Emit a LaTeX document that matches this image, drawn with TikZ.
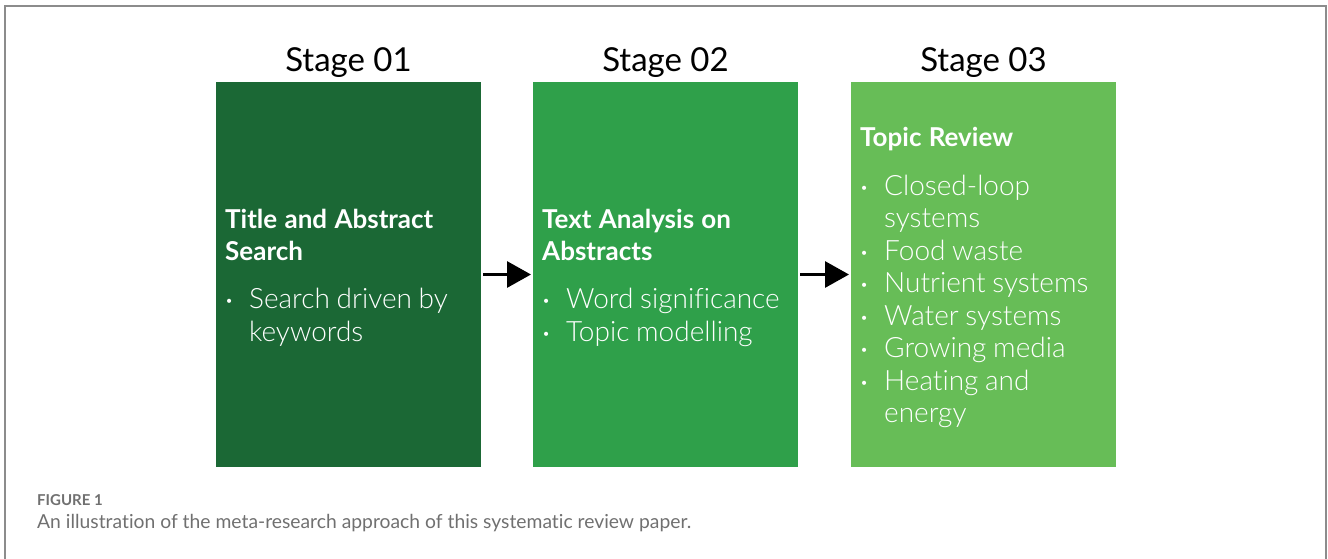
\documentclass[tikz,border=0pt]{standalone}
\usepackage{fontspec}
\setmainfont{Lato}[Ligatures=NoCommon]
\newfontfamily\lightfont{Lato Light}[Ligatures=NoCommon]
\usetikzlibrary{arrows.meta,positioning}
\definecolor{stageone}{RGB}{27,104,53}
\definecolor{stagetwo}{RGB}{47,160,74}
\definecolor{stagethree}{RGB}{103,189,87}
\definecolor{framegray}{RGB}{140,140,140}
\definecolor{captiongray}{RGB}{112,112,112}
\newcommand{\headfont}{\fontsize{26}{32}\selectfont\bfseries\spaceskip=0.28em plus 0.1em}
\newcommand{\itemfont}{\fontsize{28}{32.5}\lightfont\spaceskip=0.24em plus 0.1em}
\newcommand{\bulletitem}[1]{\makebox[24pt][l]{\raisebox{3pt}{\fontsize{14}{14}\selectfont\textbullet}}#1}
\newcommand{\bulletcont}[1]{\hspace*{24pt}#1}
\begin{document}
\begin{tikzpicture}[x=1pt,y=-1pt]
  \tikzset{BoxStyle/.style = {
    shape         = rectangle,
    minimum width = 265pt,
    minimum height= 385pt,
    inner sep     = 0pt,
    outer sep     = 0pt
    }
  }
  \tikzset{StageStyle/.style = {
    inner sep     = 0pt,
    text          = black,
    font          = \fontsize{33}{40}\selectfont
    }
  }
  \tikzset{TextStyle/.style = {
    inner sep     = 0pt,
    text          = white,
    text width    = 254pt,
    align         = left
    }
  }
  \tikzset{ArrowStyle/.style = {
    draw          = black,
    line width    = 3pt,
    -{Triangle[length=24pt,width=26pt]}
    }
  }

  \useasboundingbox (0,0) rectangle (1328,559);
  \draw[framegray, line width=1.5pt] (5,570) -- (5,6) -- (1326,6) -- (1326,570);

  \node[BoxStyle, fill=stageone](Box1) at (348.5, 274.5) {};
  \node[BoxStyle, fill=stagetwo, right=52pt of Box1](Box2) {};
  \node[BoxStyle, fill=stagethree, right=53pt of Box2](Box3) {};

  \node[StageStyle, above=10pt of Box1.north, anchor=base](S1) {Stage 01};
  \node[StageStyle, above=10pt of Box2.north, anchor=base](S2) {Stage 02};
  \node[StageStyle, above=10pt of Box3.north, anchor=base](S3) {Stage 03};

  \node[TextStyle, right=9pt of Box1.west, yshift=-3pt](T1) {%
    {\headfont Title and Abstract\\Search\par}\vspace{16pt}
    {\itemfont \bulletitem{Search driven by}\\\bulletcont{keywords}\par}};
  \node[TextStyle, right=9pt of Box2.west, yshift=-3pt](T2) {%
    {\headfont Text Analysis on\\Abstracts\par}\vspace{16pt}
    {\itemfont \bulletitem{Word significance}\\\bulletitem{Topic modelling}\par}};
  \node[TextStyle, right=9pt of Box3.west, yshift=-3pt](T3) {%
    {\headfont Topic Review\par}\vspace{16pt}
    {\itemfont \bulletitem{Closed-loop}\\\bulletcont{systems}\\
      \bulletitem{Food waste}\\\bulletitem{Nutrient systems}\\
      \bulletitem{Water systems}\\\bulletitem{Growing media}\\
      \bulletitem{Heating and}\\\bulletcont{energy}\par}};

  \draw[ArrowStyle]([xshift=2pt]Box1.east) -- ([xshift=-2pt]Box2.west);
  \draw[ArrowStyle]([xshift=2pt]Box2.east) -- ([xshift=-2pt]Box3.west);

  \node[anchor=base west, inner sep=0pt, text=captiongray,
    font=\fontsize{15}{18}\selectfont\bfseries](Fig) at (37, 505) {FIGURE 1};
  \node[anchor=base west, inner sep=0pt, text=captiongray,
    font=\fontsize{19.3}{22}\selectfont](Cap) at (37, 528)
    {An illustration of the meta-research approach of this systematic review paper.};
\end{tikzpicture}
\end{document}
